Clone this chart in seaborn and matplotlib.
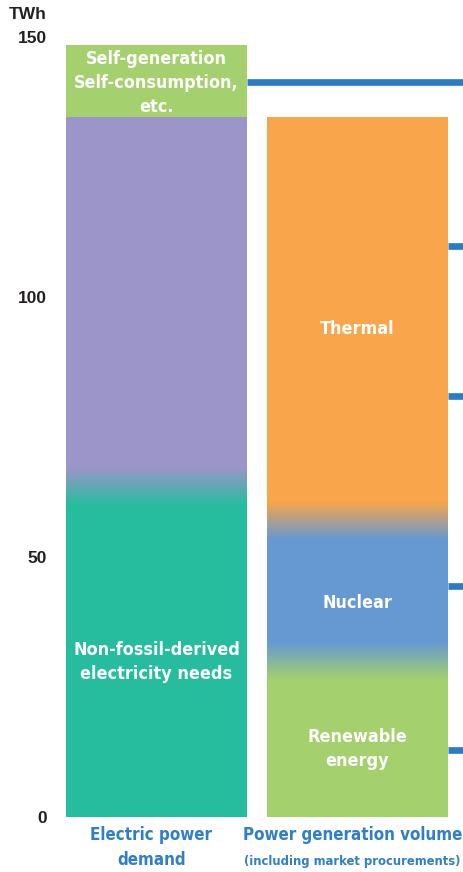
import os
import numpy as np
import pandas as pd
import matplotlib
matplotlib.use("Agg")
import matplotlib.pyplot as plt
import matplotlib.font_manager as fm
from matplotlib.colors import LinearSegmentedColormap
import seaborn as sns

# ---------------- data ----------------
categories = ["Electric power\ndemand", "Power generation volume"]
category_notes = ["", "(including market procurements)"]
demand_segments = ["Non-fossil-derived\nelectricity needs", "", "Self-generation\nSelf-consumption,\netc."]
demand_values = [63.5, 71.1, 13.9]
generation_segments = ["Renewable\nenergy", "Nuclear", "Thermal"]
generation_values = [30.0, 27.0, 77.6]
marker_levels = [141.3, 109.9, 81.0, 44.5, 12.9]
y_ticks = [0, 50, 100, 150]
unit = "TWh"

# ---------------- style ----------------
demand_colors = ["#25BD9D", "#9B95C9", "#A4D16D"]
generation_colors = ["#A4D16D", "#6699D2", "#F8A54B"]
demand_blend = [True, False]
generation_blend = [True, True]
blend_width = 7.0
marker_start_bar = [0, 1, 1, 1, 1]
demand_label_dy = [-6, 0, 0]        # points
generation_label_dy = [-6, -7, -6]  # points
line_color = "#2A7DC5"
cat_color = "#2F7EC6"
tick_color = "#231F20"
regular = ["Liberation Sans", "DejaVu Sans"]

sns.set_theme(style="white")
plt.rcParams["font.family"] = ["DejaVu Sans"]


def find_condensed():
    best = None
    for f in fm.fontManager.ttflist:
        name = os.path.basename(f.fname).lower()
        st = str(f.stretch).lower()
        cond = ("condensed" in name or "narrow" in name or
                st in ("condensed", "semi-condensed", "extra-condensed", "ultra-condensed"))
        if not cond:
            continue
        try:
            w = int(f.weight)
        except Exception:
            w = 700 if "bold" in str(f.weight).lower() else 400
        score = abs(w - 650)
        if "extra" in name or "ultra" in name:
            score += 200
        if best is None or score < best[0]:
            best = (score, f.fname)
    return best[1] if best else None


_cond = find_condensed()


def nfont(size):
    if _cond:
        fp = fm.FontProperties(fname=_cond)
        fp.set_size(size)
        return fp
    return fm.FontProperties(family=["Roboto", "DejaVu Sans"], weight="bold", size=size)


fig = plt.figure(figsize=(4.64, 8.72), dpi=100)
ax = fig.add_axes([66 / 464, 55 / 872, 398 / 464, 780 / 872])
renderer = fig.canvas.get_renderer()


def fitted_size(text, base, target_px):
    t = fig.text(0, 0, text, fontproperties=nfont(base))
    w = t.get_window_extent(renderer).width
    t.remove()
    return min(base, base * target_px / w)


segments_by_bar = [demand_values, generation_values]
colors_by_bar = [demand_colors, generation_colors]
cum = [np.cumsum(v) for v in segments_by_bar]
n_layers = len(demand_values)

bar_patches = None
for layer in reversed(range(n_layers)):
    df = pd.DataFrame({"cat": categories,
                       "top": [cum[b][layer] for b in range(2)]})
    sns.barplot(data=df, x="cat", y="top", hue="cat",
                palette=[colors_by_bar[b][layer] for b in range(2)],
                width=0.9, saturation=1, legend=False, linewidth=0, ax=ax)
    if bar_patches is None:
        bar_patches = sorted(list(ax.patches), key=lambda p: p.get_x())

xlim = (-0.45, 1.53)
ylim = (0, 150)

# gradient transitions between stacked segments
blends = [demand_blend, generation_blend]
for b in range(2):
    p = bar_patches[b]
    x0, x1 = p.get_x(), p.get_x() + p.get_width()
    for k, flag in enumerate(blends[b]):
        if not flag:
            continue
        level = cum[b][k]
        cmap = LinearSegmentedColormap.from_list(
            "g", [colors_by_bar[b][k], colors_by_bar[b][k + 1]])
        grad = np.linspace(0, 1, 256).reshape(-1, 1)
        ax.imshow(grad, extent=[x0, x1, level - blend_width / 2, level + blend_width / 2],
                  origin="lower", cmap=cmap, aspect="auto", zorder=3,
                  interpolation="bilinear")

# segment labels
seg_size = fitted_size("Non-fossil-derived", 15.5, 166)
seg_gap = 17.3  # points between lines
labels_by_bar = [demand_segments, generation_segments]
dys = [demand_label_dy, generation_label_dy]
for b in range(2):
    p = bar_patches[b]
    xc = p.get_x() + p.get_width() / 2
    bottoms = np.concatenate([[0], cum[b][:-1]])
    for k, lab in enumerate(labels_by_bar[b]):
        if not lab:
            continue
        ym = (bottoms[k] + cum[b][k]) / 2
        lines = lab.split("\n")
        n = len(lines)
        for i, line in enumerate(lines):
            off = ((n - 1) / 2 - i) * seg_gap + dys[b][k]
            ax.annotate(line, xy=(xc, ym), xycoords="data", xytext=(0, off),
                        textcoords="offset points", ha="center", va="center_baseline",
                        color="white", fontproperties=nfont(seg_size), zorder=5)

# marker lines
for lvl, sb in zip(marker_levels, marker_start_bar):
    p = bar_patches[sb]
    ax.hlines(lvl, p.get_x() + p.get_width(), xlim[1], color=line_color,
              lw=4.8, zorder=4)

ax.set_xlim(*xlim)
ax.set_ylim(*ylim)
ax.set_yticks(y_ticks)
ax.set_yticklabels([str(t) for t in y_ticks], fontsize=12.5, fontweight="bold",
                   color=tick_color, family=regular)
ax.tick_params(axis="y", length=0, pad=14)
ax.set_xticks([])
ax.set_xlabel("")
ax.set_ylabel("")
for s in ax.spines.values():
    s.set_visible(False)

ax.annotate(unit, xy=(0, ylim[1]), xycoords=("axes fraction", "data"),
            xytext=(-14, 16), textcoords="offset points", ha="right", va="center",
            fontsize=12.5, fontweight="bold", color=tick_color, family=regular)

# category labels
cat_size = fitted_size("Power generation volume", 15.5, 220)
note_size = fitted_size("(including market procurements)", 12, 216)
line1_off = -16 * 0.72
line2_off = -41 * 0.72
for b in range(2):
    p = bar_patches[b]
    xc = p.get_x() + p.get_width() / 2 - 0.025
    lines = categories[b].split("\n")
    items = [(lines[0], cat_size, line1_off)]
    if len(lines) > 1:
        items.append((lines[1], cat_size, line2_off))
    if category_notes[b]:
        items.append((category_notes[b], note_size, line2_off - 1.5))
    for txt, sz, off in items:
        ax.annotate(txt, xy=(xc, 0), xycoords=("data", "axes fraction"),
                    xytext=(0, off), textcoords="offset points", ha="center",
                    va="center_baseline", fontproperties=nfont(sz), color=cat_color,
                    annotation_clip=False)

fig.savefig("out.png", dpi=100, facecolor="white")
